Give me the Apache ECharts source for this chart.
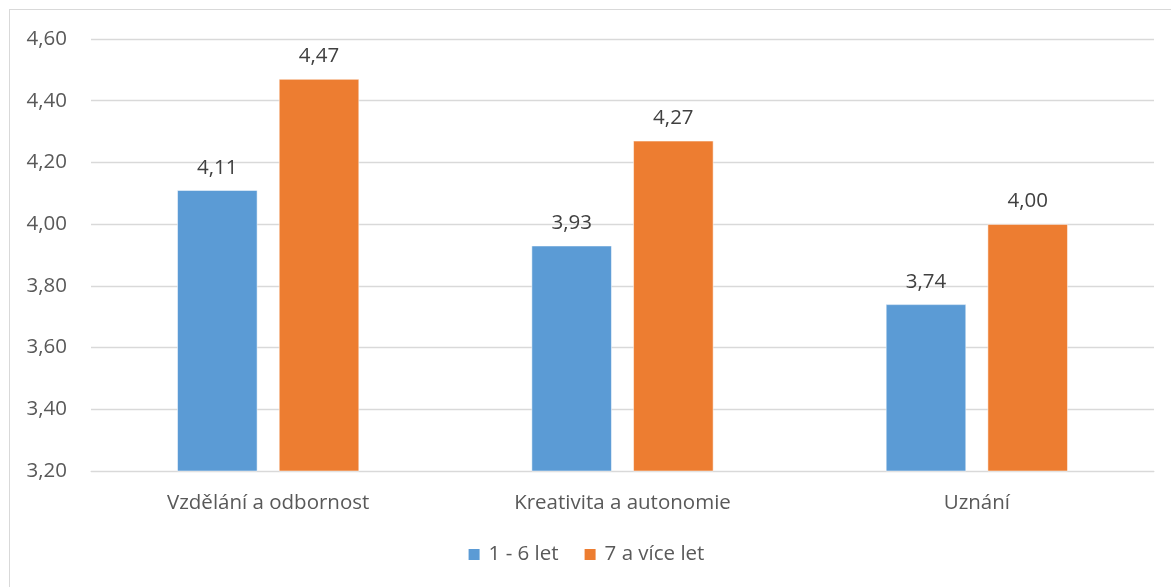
<!DOCTYPE html>
<html><head><meta charset="utf-8">
<script src="https://cdn.jsdelivr.net/npm/echarts@6/dist/echarts.min.js"></script>
<style>html,body{margin:0;padding:0;background:#fff}#c{width:1171px;height:587px;}
#frame{position:absolute;left:9px;top:9px;width:1170px;height:590px;border:1px solid #d9d9d9;pointer-events:none}</style>
</head><body><div id="c"></div><div id="frame"></div>
<script>
const categories = ['Vzdělání a odbornost', 'Kreativita a autonomie', 'Uznání'];
const seriesNames = ['1 - 6 let', '7 a více let'];
const valuesShort = [4.11, 3.93, 3.74];
const valuesLong = [4.47, 4.27, 4.00];
const colors = ['#5b9bd5', '#ed7d31'];
const fmt = v => v.toFixed(2).replace('.', ',');
const font = '"Open Sans", sans-serif';
const fs = 20.5;
const chart = echarts.init(document.getElementById('c'));
chart.setOption({
  animation: false,
  textStyle: {fontFamily: font},
  grid: {left: 91, right: 17, top: 39, bottom: 116},
  legend: {
    bottom: 17, left: 'center', itemWidth: 13, itemHeight: 13, itemGap: 24,
    icon: 'rect',
    textStyle: {fontSize: fs, color: '#595959', fontFamily: font, padding: [0, 0, 0, 3]},
    data: seriesNames
  },
  xAxis: {
    type: 'category', data: categories,
    axisLine: {lineStyle: {color: '#d9d9d9'}}, axisTick: {show: false},
    axisLabel: {fontSize: fs, color: '#595959', margin: 22, fontFamily: font}
  },
  yAxis: {
    type: 'value', min: 3.2, max: 4.6, interval: 0.2,
    axisLine: {show: false}, axisTick: {show: false},
    splitLine: {lineStyle: {color: '#d9d9d9', width: 1.3}},
    axisLabel: {fontSize: fs, color: '#595959', margin: 24, formatter: v => fmt(v), fontFamily: font}
  },
  series: [
    {name: seriesNames[0], type: 'bar', data: valuesShort, barWidth: '22.6%', barGap: '27%',
     itemStyle: {color: colors[0], borderColor: '#fff', borderWidth: 0.5},
     label: {show: true, position: 'top', distance: 12, fontSize: fs, color: '#404040', formatter: p => fmt(p.value), fontFamily: font}},
    {name: seriesNames[1], type: 'bar', data: valuesLong, barWidth: '22.6%',
     itemStyle: {color: colors[1], borderColor: '#fff', borderWidth: 0.5},
     label: {show: true, position: 'top', distance: 12, fontSize: fs, color: '#404040', formatter: p => fmt(p.value), fontFamily: font}}
  ]
});
</script></body></html>
